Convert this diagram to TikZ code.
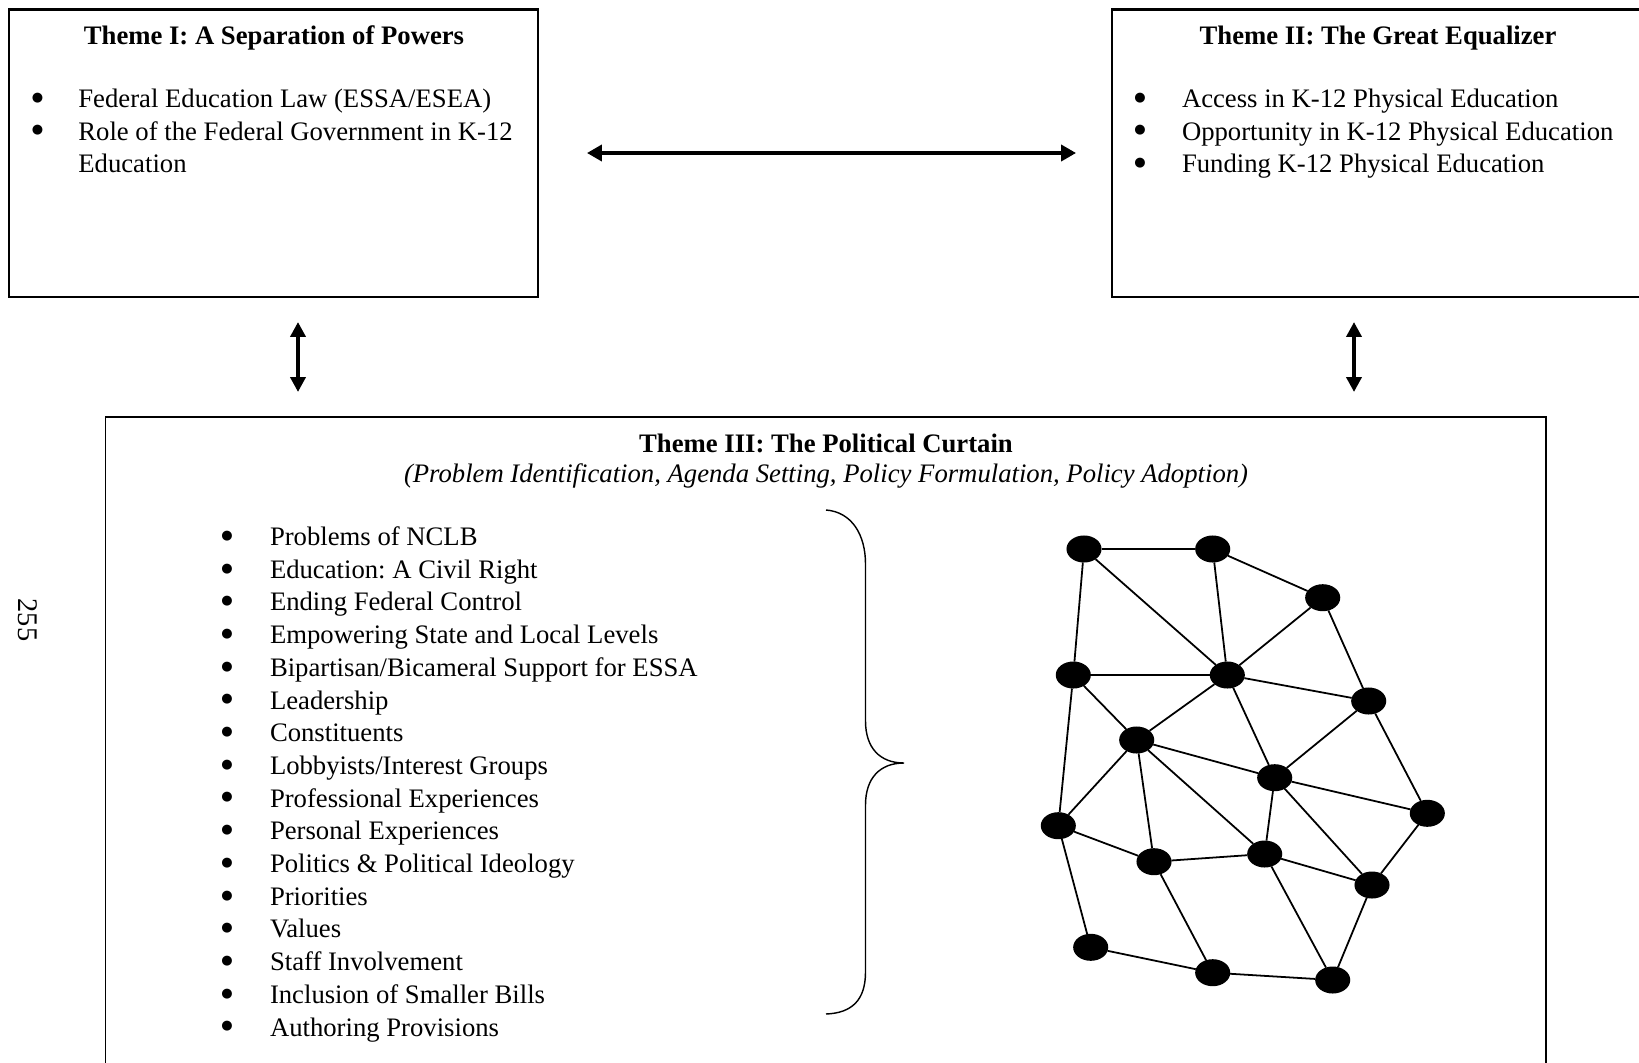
\documentclass[tikz,border=0pt]{standalone}
\usepackage{fontspec}
\setmainfont{Liberation Serif}
\newfontfamily\symfont{DejaVu Sans}
\usetikzlibrary{arrows.meta,shapes.geometric}
\frenchspacing
\begin{document}
\begin{tikzpicture}[x=0.4219pt,y=-0.4219pt,
  every node/.style={inner sep=0pt,outer sep=0pt},
  txt/.style={font=\fontsize{11.26}{13}\selectfont},
  boxframe/.style={draw,rectangle,line width=0.9pt},
  bulletmark/.style={font=\symfont\fontsize{5.5}{6}\selectfont,anchor=center,yshift=9.5*0.4219pt},
  itemtext/.style={txt,anchor=base west},
  dbl/.style={{Triangle[length=6.3pt,width=6.8pt]}-{Triangle[length=6.3pt,width=6.8pt]},line width=1.45pt},
  vdbl/.style={{Triangle[length=6.3pt,width=6.3pt]}-{Triangle[length=6.3pt,width=6.3pt]},line width=1.6pt},
  dot/.style={ellipse,fill=black,minimum width=14.8pt,minimum height=11.4pt},
  edge/.style={line width=0.75pt},
  bracepath/.style={line width=0.6pt}]
\useasboundingbox (0,0) rectangle (1639,1063);
\clip (0,0) rectangle (1639,1063);

% boxes
\node[boxframe,minimum width=223.0pt,minimum height=121.3pt] (t1) at (273.7,153.2) {};
\node[boxframe,minimum width=224.5pt,minimum height=121.3pt] (t2) at (1378,153.2) {};
\node[boxframe,line width=0.7pt,minimum width=607.7pt,minimum height=277.6pt] (t3) at (825.8,746) {};

% Theme I
\node[txt,anchor=base,font=\fontsize{11.26}{13}\selectfont\bfseries] (t1title) at (274,44.5) {Theme I: A Separation of Powers};
\node[bulletmark] (t1b1) at (37.6,107.5) {●};
\node[itemtext] (t1i1) at (78.4,107.5) {Federal Education Law (ESSA/ESEA)};
\node[bulletmark] (t1b2) at (37.6,140) {●};
\node[itemtext] (t1i2) at (78.4,140) {Role of the Federal Government in K-12};
\node[itemtext] (t1i3) at (78.4,172.5) {Education};

% Theme II
\node[txt,anchor=base,font=\fontsize{11.26}{13}\selectfont\bfseries] (t2title) at (1378,44.5) {Theme II: The Great Equalizer};
\node[bulletmark] (t2b1) at (1140,107.5) {●};
\node[itemtext] (t2i1) at (1182,107.5) {Access in K-12 Physical Education};
\node[bulletmark] (t2b2) at (1140,140) {●};
\node[itemtext] (t2i2) at (1182,140) {Opportunity in K-12 Physical Education};
\node[bulletmark] (t2b3) at (1140,172.5) {●};
\node[itemtext] (t2i3) at (1182,172.5) {Funding K-12 Physical Education};

% arrows
\coordinate (hL) at (587,153);
\coordinate (hR) at (1076,153);
\draw[dbl] (hL) -- (hR);
\coordinate (v1t) at (298,322);
\coordinate (v1b) at (298,392);
\draw[vdbl] (v1t) -- (v1b);
\coordinate (v2t) at (1354,322);
\coordinate (v2b) at (1354,392);
\draw[vdbl] (v2t) -- (v2b);

% Theme III
\node[txt,anchor=base,font=\fontsize{11.26}{13}\selectfont\bfseries] (t3title) at (826,452) {Theme III: The Political Curtain};
\node[txt,anchor=base,font=\fontsize{11.26}{13}\selectfont\itshape] (t3sub) at (826,482.5) {(Problem Identification, Agenda Setting, Policy Formulation, Policy Adoption)};

\foreach \t [count=\i from 0] in {Problems of NCLB,Education: A Civil Right,Ending Federal Control,Empowering State and Local Levels,Bipartisan/Bicameral Support for ESSA,Leadership,Constituents,Lobbyists/Interest Groups,Professional Experiences,Personal Experiences,Politics \& Political Ideology,Priorities,Values,Staff Involvement,Inclusion of Smaller Bills,Authoring Provisions}{
  \node[bulletmark] (lb\i) at (227,545.5+32.7*\i) {●};
  \node[itemtext] (li\i) at (270,545.5+32.7*\i) {\t};
}

% brace
\draw[bracepath] (826,510) .. controls (852,512) and (865.5,535) .. (865.5,564) -- (865.5,721)
  .. controls (865.5,748) and (880,763) .. (904,763)
  .. controls (880,763) and (865.5,778) .. (865.5,805) -- (865.5,972)
  .. controls (865.5,1000) and (852,1013) .. (826,1014);

% page number
\node[font=\fontsize{12}{14}\selectfont,rotate=-90] (pg) at (28,620) {255};

% network
\node[dot] (A) at (1084,549) {};
\node[dot] (B) at (1212.7,549) {};
\node[dot] (C) at (1322.7,597.7) {};
\node[dot] (D) at (1073.3,675) {};
\node[dot] (E) at (1227.3,675) {};
\node[dot] (F) at (1368.7,701) {};
\node[dot] (G) at (1136.7,740) {};
\node[dot] (H) at (1274.7,777.7) {};
\node[dot] (I) at (1427.3,813.3) {};
\node[dot] (J) at (1058.3,825.7) {};
\node[dot] (K) at (1154,861.7) {};
\node[dot] (L) at (1264.7,854) {};
\node[dot] (M) at (1372,885) {};
\node[dot] (N) at (1090.7,947.3) {};
\node[dot] (O) at (1212.7,972.7) {};
\node[dot] (P) at (1332.7,980) {};
\foreach \a/\b in {A/B,A/D,A/E,B/E,B/C,C/E,C/F,D/E,D/G,D/J,E/G,E/F,E/H,F/H,F/I,G/H,G/J,G/K,G/L,H/L,H/I,H/M,I/M,J/K,J/N,K/L,K/O,L/M,L/P,M/P,N/O,O/P}
  \draw[edge] (\a) -- (\b);
\end{tikzpicture}
\end{document}
